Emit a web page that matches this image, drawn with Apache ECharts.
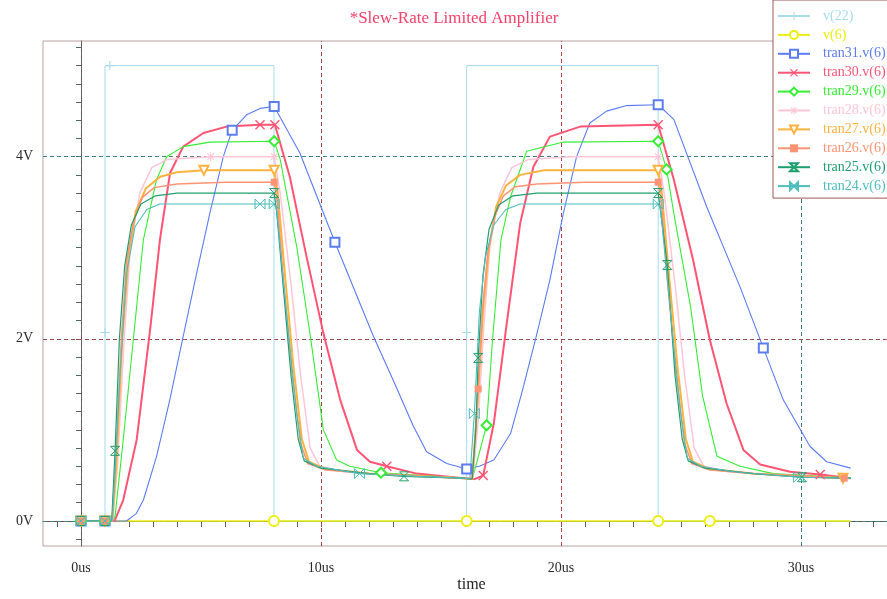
<!DOCTYPE html>
<html>
<head>
<meta charset="utf-8">
<script src="https://cdn.jsdelivr.net/npm/echarts@6/dist/echarts.min.js"></script>
<style>
html,body{margin:0;padding:0;background:#fff}
#chart{width:887px;height:599px}
</style>
</head>
<body>
<div id="chart"></div>
<script>
// time in us, value in V
var v22 = [[0,0],[1.0,0],[1.0,2.07],[1.0,5],[1.2,5],[8.04,5],[8.04,0],[16.07,0],[16.07,2.07],[16.07,5],[24.05,5],[24.05,0],[32.07,0]];
var v6 = [[0,0],[8.04,0],[16.07,0],[24.05,0],[26.2,0],[32.07,0]];
var tran31 = [[0,0],[1.0,0],[1.9,0],[2.3,0.08],[2.6,0.23],[3.15,0.71],[3.7,1.33],[4.26,2.03],[4.82,2.72],[5.37,3.38],[5.93,4.0],[6.3,4.29],[6.9,4.46],[7.46,4.53],[8.05,4.55],
  [9.12,4.04],[10.58,3.06],[12.18,2.03],[13.0,1.55],[13.85,1.04],[14.4,0.76],[15.24,0.63],[16.07,0.57],
  [16.6,0.6],[17.2,0.67],[17.9,0.96],[18.4,1.44],[19.0,2.06],[19.54,2.65],[20.1,3.38],[20.65,4.0],[21.2,4.37],[21.9,4.5],[22.7,4.56],[24.05,4.57],
  [24.7,4.41],[26.07,3.45],[27.46,2.57],[28.43,1.9],[29.26,1.33],[30.37,0.82],[31.07,0.65],[32.07,0.58]];
var tran30 = [[0,0],[1.0,0],[1.4,0],[1.76,0.23],[2.32,0.89],[2.88,2.1],[3.29,3.09],[3.71,3.82],[4.26,4.11],[5.1,4.26],[6.07,4.33],[7.46,4.35],[8.08,4.35],
  [8.7,3.78],[9.4,2.9],[10.1,2.06],[10.8,1.33],[11.5,0.78],[12.04,0.65],[12.74,0.6],[13.99,0.52],[15.93,0.47],
  [16.4,0.46],[16.76,0.5],[17.2,1.07],[17.74,2.17],[18.3,3.27],[18.85,3.89],[19.54,4.22],[20.8,4.33],[24.05,4.35],
  [24.7,3.75],[25.5,2.87],[26.2,1.99],[26.9,1.29],[27.6,0.78],[28.3,0.62],[29.54,0.54],[30.8,0.51],[32.07,0.47]];
var tran29 = [[0,0],[1.0,0],[1.3,0],[1.42,0.05],[1.76,0.89],[2.18,1.99],[2.6,3.09],[3.15,3.75],[3.57,4.0],[4.26,4.11],[5.37,4.16],[8.05,4.17],
  [8.3,3.97],[8.99,3.01],[9.54,2.06],[10.1,1.0],[10.65,0.67],[11.2,0.6],[12.5,0.53],[15.93,0.47],
  [16.3,0.46],[16.6,0.75],[16.9,1.05],[17.15,2.0],[17.5,3.09],[17.9,3.56],[18.57,4.06],[20.1,4.16],[24.05,4.17],
  [24.4,3.86],[24.7,3.38],[25.4,2.35],[25.9,1.37],[26.5,0.71],[27.46,0.6],[28.85,0.52],[32.07,0.47]];
var tran28 = [[0,0],[1.0,0],[1.32,0],[1.52,0.6],[1.8,2.0],[2.06,3.0],[2.45,3.6],[2.95,3.88],[3.6,3.97],[5.4,4.0],[8.05,4.0],
  [8.3,3.6],[8.75,2.6],[9.15,1.6],[9.55,0.8],[9.95,0.6],[11,0.54],[13,0.5],[15.95,0.47],
  [16.32,0.46],[16.55,1.1],[16.8,2.2],[17.05,3.05],[17.45,3.6],[17.95,3.88],[18.65,3.97],[20.4,4.0],[24.05,4.0],
  [24.3,3.6],[24.75,2.6],[25.15,1.6],[25.55,0.8],[25.95,0.6],[27,0.54],[29,0.5],[32.07,0.47]];
var tran27 = [[0,0],[1.0,0],[1.3,0],[1.47,0.6],[1.72,2.0],[1.98,2.9],[2.28,3.4],[2.7,3.65],[3.3,3.78],[4.0,3.83],[5.12,3.85],[8.05,3.85],
  [8.2,3.6],[8.5,2.7],[8.85,1.7],[9.2,0.9],[9.5,0.65],[10.2,0.57],[12,0.52],[15.95,0.47],
  [16.3,0.46],[16.5,1.2],[16.75,2.3],[17.0,3.0],[17.3,3.45],[17.7,3.68],[18.3,3.8],[19.3,3.85],[24.05,3.85],
  [24.2,3.6],[24.5,2.7],[24.85,1.7],[25.2,0.9],[25.5,0.65],[26.2,0.57],[28,0.52],[31.75,0.47],[32.07,0.47]];
var tran26 = [[0,0],[1.0,0],[1.3,0],[1.45,0.7],[1.68,2.0],[1.9,2.85],[2.2,3.3],[2.55,3.55],[3.05,3.66],[4.0,3.7],[6.0,3.72],[8.05,3.72],
  [8.18,3.5],[8.45,2.6],[8.8,1.6],[9.15,0.85],[9.45,0.63],[10.2,0.56],[12,0.52],[15.95,0.47],
  [16.3,0.46],[16.55,1.45],[16.72,2.3],[16.95,2.95],[17.25,3.35],[17.6,3.57],[18.1,3.67],[19.0,3.7],[21,3.72],[24.05,3.72],
  [24.18,3.5],[24.45,2.6],[24.8,1.6],[25.15,0.85],[25.45,0.63],[26.2,0.56],[28,0.52],[31.8,0.47],[32.07,0.47]];
var tran25 = [[0,0],[1.0,0],[1.28,0],[1.42,0.77],[1.6,2.0],[1.82,2.8],[2.1,3.25],[2.5,3.48],[3.1,3.57],[4.0,3.6],[8.05,3.6],
  [8.15,3.4],[8.45,2.5],[8.75,1.6],[9.05,0.9],[9.3,0.66],[10.0,0.58],[12,0.52],[13.46,0.49],[15.95,0.47],
  [16.3,0.46],[16.45,1.0],[16.55,1.79],[16.75,2.7],[17.0,3.2],[17.4,3.47],[18.0,3.57],[19.0,3.6],[24.05,3.6],
  [24.15,3.4],[24.43,2.81],[24.75,1.6],[25.05,0.9],[25.3,0.66],[26.0,0.58],[28,0.52],[30.04,0.48],[32.07,0.47]];
var tran24 = [[0,0],[1.0,0],[1.3,0],[1.45,0.7],[1.63,1.62],[1.9,2.72],[2.25,3.23],[2.74,3.42],[3.29,3.48],[7.46,3.48],[8.05,3.48],
  [8.15,3.42],[8.43,2.65],[8.7,1.92],[8.99,1.18],[9.26,0.69],[9.82,0.6],[11.6,0.52],[14.0,0.49],[15.93,0.47],
  [16.2,0.46],[16.39,1.18],[16.6,2.3],[16.85,2.9],[17.2,3.25],[17.7,3.42],[18.3,3.48],[24.05,3.48],
  [24.15,3.42],[24.43,2.65],[24.7,1.92],[24.99,1.18],[25.26,0.69],[25.82,0.6],[27.2,0.54],[29.9,0.48],[32.07,0.47]];

// which points carry a marker (indices into the arrays above)
var marks = {
  'v(22)': [2,4,8],
  'v(6)': [1,2,3,4],
  'tran31.v(6)': [0,1,11,14,16,22,34,38],
  'tran30.v(6)': [0,1,11,12,19,23,30,38],
  'tran29.v(6)': [0,1,11,18,22,28,29],
  'tran28.v(6)': [0,1,9,10,27],
  'tran27.v(6)': [0,1,10,11,28,36],
  'tran26.v(6)': [0,1,11,21,29,37],
  'tran25.v(6)': [0,1,3,10,18,22,28,30,36],
  'tran24.v(6)': [0,1,9,10,17,21,27,35]
};

var xTicks = [-1,0,1,2,3,4,5,6,7,8,9,10,11,12,13,14,15,16,17,18,19,20,21,22,23,24,25,26,27,28,29,30,31,32,33,34];
var xLabels = [0,10,20,30];
var yTicks = [-0.2,0,0.2,0.4,0.6,0.8,1,1.2,1.4,1.6,1.8,2,2.2,2.4,2.6,2.8,3,3.2,3.4,3.6,3.8,4,4.2,4.4,4.6,4.8,5,5.2];
var yLabels = [0,2,4];

var plus = 'path://M-0.6,-5H0.6V-0.6H5V0.6H0.6V5H-0.6V0.6H-5V-0.6H-0.6Z';
var cross = 'path://M-5,-4L-4,-5L0,-1L4,-5L5,-4L1,0L5,4L4,5L0,1L-4,5L-5,4L-1,0Z';
var star = 'path://M-0.6,-5H0.6V-0.6H5V0.6H0.6V5H-0.6V0.6H-5V-0.6H-0.6Z M-4,-3.2L-3.2,-4L4,3.2L3.2,4Z M3.2,-4L4,-3.2L-3.2,4L-4,3.2Z';
var hourglass = 'path://M-4,-5L4,-5L-4,5L4,5Z';
var bowtie = 'path://M-5,-4L5,4L5,-4L-5,4Z';

var defs = [
  {name:'v(22)', data:v22, color:'#a6dcee', width:1, symbol:plus, size:9, fill:null},
  {name:'v(6)', data:v6, color:'#eeee10', width:1.5, symbol:'emptyCircle', size:10, fill:null},
  {name:'tran31.v(6)', data:tran31, color:'#5c7cf4', width:1.1, symbol:'emptyRect', size:9, fill:null},
  {name:'tran30.v(6)', data:tran30, color:'#ff5474', width:2, symbol:cross, size:10, fill:null},
  {name:'tran29.v(6)', data:tran29, color:'#34ee34', width:1.1, symbol:'emptyDiamond', size:10, fill:null},
  {name:'tran28.v(6)', data:tran28, color:'#ffc6d6', width:1.5, symbol:star, size:9, fill:null},
  {name:'tran27.v(6)', data:tran27, color:'#ffb23e', width:2, symbol:'emptyTriangle', size:9, rotate:180, fill:null},
  {name:'tran26.v(6)', data:tran26, color:'#ff9474', width:1.5, symbol:'rect', size:7, fill:null},
  {name:'tran25.v(6)', data:tran25, color:'#1f9e6e', width:1.2, symbol:hourglass, size:9, fill:'rgba(255,255,255,0)'},
  {name:'tran24.v(6)', data:tran24, color:'#4dbdbd', width:1.1, symbol:bowtie, size:10, fill:'rgba(255,255,255,0)'}
];

// dashed grid lines at the labelled values
var gridLines = [
  {xAxis:0, lineStyle:{color:'#5a6a6a'}},
  {xAxis:10, lineStyle:{color:'#9a4444'}},
  {xAxis:20, lineStyle:{color:'#b04444'}},
  {xAxis:30, lineStyle:{color:'#3f7878'}},
  {yAxis:0, lineStyle:{color:'#3f8080'}},
  {yAxis:2, lineStyle:{color:'#a04848'}},
  {yAxis:4, lineStyle:{color:'#3f8080'}}
];

var series = [{
  name: 'grid', type: 'line', data: [[0,0]], symbol: 'none', silent: true, z: 1,
  lineStyle: {width: 0},
  markLine: {
    z: 1, silent: true, symbol: ['none','none'], label: {show: false}, animation: false,
    lineStyle: {type: [4,3], width: 1},
    data: gridLines
  }
}];

defs.forEach(function (d) {
  var m = marks[d.name];
  var pts = d.data.map(function (p, i) {
    return m.indexOf(i) >= 0 ? {value: p} : {value: p, symbol: 'none'};
  });
  var item = {color: d.color};
  if (d.fill) item = {color: d.fill, borderColor: d.color, borderWidth: 1};
  series.push({
    name: d.name,
    type: 'line',
    data: pts,
    symbol: d.symbol,
    symbolSize: d.size,
    symbolRotate: d.rotate || 0,
    showSymbol: true,
    showAllSymbol: true,
    color: d.color,
    lineStyle: {color: d.color, width: d.width},
    itemStyle: item,
    z: 6
  });
});

var chart = echarts.init(document.getElementById('chart'));
var serif = 'Liberation Serif';
var option = {
  animation: false,
  backgroundColor: '#fff',
  title: {
    text: '*Slew-Rate Limited Amplifier',
    left: 449, top: 5, textAlign: 'center',
    textStyle: {color: '#f4406a', fontFamily: serif, fontSize: 17, fontWeight: 'normal'}
  },
  legend: {
    orient: 'vertical', left: 773, top: 0,
    padding: [9, 6, 5, 4],
    itemWidth: 32, itemHeight: 10, itemGap: 4.9,
    backgroundColor: '#fff', borderColor: '#a05656', borderWidth: 1,
    selectedMode: false,
    textStyle: {fontFamily: serif, fontSize: 14, padding: [0, 0, 0, 8]},
    data: defs.map(function (d) { return {name: d.name, textStyle: {color: d.color}}; })
  },
  grid: {left: 43, top: 41, width: 857, height: 505, outerBoundsMode: 'none',
    show: true, borderColor: '#bca0a0', borderWidth: 1},
  xAxis: {
    type: 'value', min: -1.583, max: 34.125,
    name: 'time', nameLocation: 'middle', nameGap: 31, nameMoveOverlap: false,
    nameTextStyle: {fontFamily: serif, fontSize: 16, color: '#222'},
    axisLine: {lineStyle: {color: '#6a5252'}},
    axisTick: {customValues: xTicks, length: 6, lineStyle: {color: '#5a5a5a'}},
    axisLabel: {customValues: xLabels, formatter: function (v) { return v + 'us'; },
      fontFamily: serif, fontSize: 14, color: '#2a2a2a', margin: 15},
    splitLine: {show: false}
  },
  yAxis: {
    type: 'value', min: -0.275, max: 5.27,
    axisLine: {show: true, lineStyle: {color: '#6a5252'}},
    axisTick: {show: true, customValues: yTicks, length: 5, lineStyle: {color: '#4a6a6a'}},
    axisLabel: {customValues: yLabels, formatter: function (v) { return v + 'V'; },
      fontFamily: serif, fontSize: 14, color: '#2a2a2a', margin: 10},
    splitLine: {show: false}
  },
  series: series
};
chart.setOption(option);
</script>
</body>
</html>
